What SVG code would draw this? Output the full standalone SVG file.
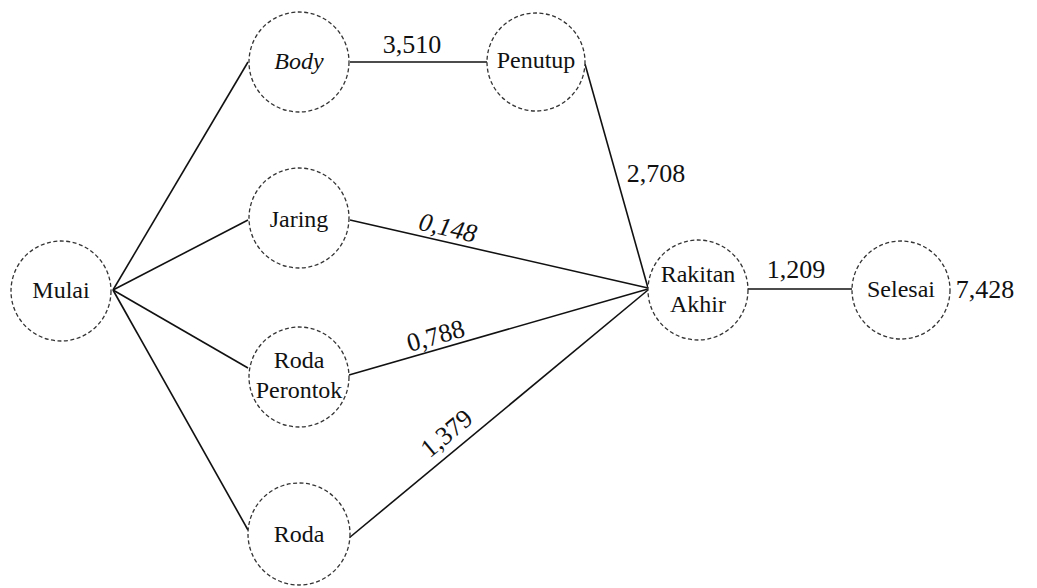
<svg xmlns="http://www.w3.org/2000/svg" width="1037" height="588" viewBox="0 0 1037 588">
<style>
.node circle{fill:#fff;stroke:#333;stroke-width:1.3;stroke-dasharray:4 2.5}
.node text{font-size:24px;fill:#111;text-anchor:middle}
.edge line{stroke:#111;stroke-width:1.6}
.lbl{font-size:26px;fill:#111;text-anchor:middle}
</style>
<rect width="1037" height="588" fill="#fff"/>
<g id="connectors" class="edge">
<line x1="113" y1="290" x2="248" y2="62"/>
<line x1="113" y1="290" x2="248" y2="220"/>
<line x1="113" y1="290" x2="248" y2="368"/>
<line x1="113" y1="290" x2="248" y2="530"/>
<line x1="350" y1="62" x2="487" y2="62"/>
<line x1="585" y1="64" x2="648" y2="288"/>
<line x1="350" y1="220" x2="648" y2="288"/>
<line x1="349" y1="375" x2="648" y2="289"/>
<line x1="349" y1="538" x2="648" y2="290"/>
<line x1="747" y1="289" x2="852" y2="289"/>
</g>
<g font-family="Liberation Serif, serif">
<g id="node-mulai" class="node"><circle cx="61" cy="291" r="50"/><text x="61" y="298">Mulai</text></g>
<g id="node-body" class="node"><circle cx="299" cy="62" r="50"/><text x="299" y="69" font-style="italic">Body</text></g>
<g id="node-penutup" class="node"><circle cx="536" cy="62" r="49"/><text x="536" y="68">Penutup</text></g>
<g id="node-jaring" class="node"><circle cx="299" cy="218" r="50"/><text x="299" y="227">Jaring</text></g>
<g id="node-roda-perontok" class="node"><circle cx="299" cy="377" r="50"/><text x="299" y="368">Roda</text><text x="299" y="398">Perontok</text></g>
<g id="node-roda" class="node"><circle cx="299" cy="534" r="51"/><text x="299" y="542">Roda</text></g>
<g id="node-rakitan" class="node"><circle cx="698" cy="290" r="50"/><text x="698" y="282">Rakitan</text><text x="698" y="312">Akhir</text></g>
<g id="node-selesai" class="node"><circle cx="901" cy="290" r="49"/><text x="901" y="297">Selesai</text></g>
<g id="labels">
<text class="lbl" x="412" y="53">3,510</text>
<text class="lbl" x="656" y="182">2,708</text>
<text class="lbl" transform="translate(446,236) rotate(12.9)" font-style="italic">0,148</text>
<text class="lbl" transform="translate(438,344) rotate(-15.9)">0,788</text>
<text class="lbl" transform="translate(452,440) rotate(-39.7)">1,379</text>
<text class="lbl" x="796" y="278">1,209</text>
<text class="lbl" x="985" y="298">7,428</text>
</g>
</g>
</svg>
